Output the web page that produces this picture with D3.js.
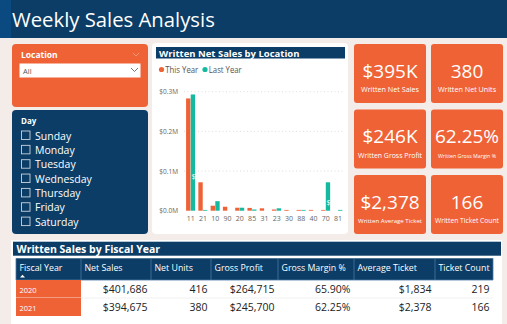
<!DOCTYPE html>
<html>
<head>
<meta charset="utf-8">
<script src="https://cdn.jsdelivr.net/npm/d3@7"></script>
<style>
  body { margin: 0; background: #f3ece9; }
  svg { display: block; font-family: "Open Sans", "Noto Sans", sans-serif; }
</style>
</head>
<body>
<div id="dash"></div>
<script>
// data
var locations = ["11", "21", "10", "90", "20", "85", "31", "23", "30", "88", "40", "70", "81"];
var thisYear = [0.283, 0.0716, 0.0126, 0.010, 0.0075, 0.007, 0.006, 0.003, 0.002, 0.002, 0.002, 0.002, 0];
var lastYear = [0.293, 0.002, 0.024, 0, 0.0075, 0.003, 0, 0.006, 0, 0.002, 0, 0.0716, 0.002];
var yTicks = [0, 0.1, 0.2, 0.3];
var seriesNames = ["This Year", "Last Year"];

var days = ["Sunday", "Monday", "Tuesday", "Wednesday", "Thursday", "Friday", "Saturday"];

var kpiValues = ["$395K", "380", "$246K", "62.25%", "$2,378", "166"];
var kpiLabels = ["Written Net Sales", "Written Net Units", "Written Gross Profit", "Written Gross Margin %", "Written Average Ticket", "Written Ticket Count"];

var tableCols = ["Fiscal Year", "Net Sales", "Net Units", "Gross Profit", "Gross Margin %", "Average Ticket", "Ticket Count"];
var tableRows = [
  ["2020", "$401,686", "416", "$264,715", "65.90%", "$1,834", "219"],
  ["2021", "$394,675", "380", "$245,700", "62.25%", "$2,378", "166"]
];

var navy = "#0b3d66", orange = "#ef6236", teal = "#14b9a0";

var svg = d3.select("#dash").append("svg")
  .attr("width", 507).attr("height", 324);

svg.append("rect").attr("width", 507).attr("height", 324).attr("fill", "#f3ece9");

// header
svg.append("rect").attr("width", 507).attr("height", 38).attr("fill", navy);
svg.append("rect").attr("width", 11).attr("height", 38).attr("fill", "#0b4a80");
svg.append("text").attr("x", 12).attr("y", 27)
  .attr("fill", "#fff").attr("font-size", 20.3)
  .text("Weekly Sales Analysis");

// location slicer
svg.append("rect").attr("x", 12).attr("y", 44).attr("width", 136).attr("height", 63)
  .attr("rx", 4).attr("fill", orange);
svg.append("text").attr("x", 21).attr("y", 58).attr("fill", "#fff")
  .attr("font-size", 8.5).attr("font-weight", "bold").text("Location");
svg.append("path").attr("d", "M133,53 l3,3 l3,-3").attr("fill", "none")
  .attr("stroke", "#f7a58a").attr("stroke-width", 0.8);
svg.append("rect").attr("x", 19.5).attr("y", 63.5).attr("width", 121).attr("height", 14)
  .attr("fill", "#fff");
svg.append("text").attr("x", 23).attr("y", 74).attr("fill", "#555")
  .attr("font-size", 7.5).text("All");
svg.append("path").attr("d", "M131,68 l3.5,3.5 l3.5,-3.5").attr("fill", "none")
  .attr("stroke", "#666").attr("stroke-width", 0.9);

// day slicer
svg.append("rect").attr("x", 12).attr("y", 110).attr("width", 136).attr("height", 124)
  .attr("rx", 4).attr("fill", navy);
svg.append("text").attr("x", 21).attr("y", 124).attr("fill", "#fff")
  .attr("font-size", 8).attr("font-weight", "bold").text("Day");
var dayG = svg.append("g").selectAll("g").data(days).join("g")
  .attr("transform", function(d, i) { return "translate(0," + (i * 14.35) + ")"; });
dayG.append("rect").attr("x", 21.5).attr("y", 131).attr("width", 8.5).attr("height", 8.5)
  .attr("fill", "none").attr("stroke", "#c9d3de").attr("stroke-width", 0.9);
dayG.append("text").attr("x", 35).attr("y", 139.5).attr("fill", "#fff")
  .attr("font-size", 10.5).text(function(d) { return d; });

// bar chart panel
svg.append("rect").attr("x", 152).attr("y", 43).attr("width", 196).attr("height", 191)
  .attr("rx", 4).attr("fill", "#fff");
svg.append("rect").attr("x", 156).attr("y", 47).attr("width", 189).attr("height", 11.5)
  .attr("fill", navy);
svg.append("text").attr("x", 159).attr("y", 56.5).attr("fill", "#fff")
  .attr("font-size", 9.5).attr("font-weight", "bold").text("Written Net Sales by Location");

var leg = svg.append("g").selectAll("g").data(seriesNames).join("g")
  .attr("transform", function(d, i) { return "translate(" + (161.5 + i * 43.5) + ",69.5)"; });
leg.append("circle").attr("r", 2.6).attr("fill", function(d, i) { return i ? teal : orange; });
leg.append("text").attr("x", 3.8).attr("y", 3.3).attr("fill", "#555")
  .attr("font-size", 9).attr("textLength", 33).attr("lengthAdjust", "spacingAndGlyphs")
  .text(function(d) { return d; });

var x = d3.scaleBand().domain(locations).range([184.6, 344.2]).paddingInner(0.24).paddingOuter(0.12);
var x1 = d3.scaleBand().domain([0, 1]).range([0, x.bandwidth()]);
var y = d3.scaleLinear().domain([0, 0.3]).range([210.7, 91.7]);

svg.append("g").selectAll("line").data(yTicks.slice(1)).join("line")
  .attr("x1", 184).attr("x2", 345)
  .attr("y1", function(d) { return y(d); }).attr("y2", function(d) { return y(d); })
  .attr("stroke", "#d6d6d6").attr("stroke-width", 0.8).attr("stroke-dasharray", "1,2.5");

var yAxis = svg.append("g").attr("transform", "translate(178,0)")
  .call(d3.axisLeft(y).tickValues(yTicks).tickSize(0).tickPadding(0)
    .tickFormat(function(d) { return "$" + d.toFixed(1) + "M"; }));
yAxis.select(".domain").remove();
yAxis.selectAll("text").attr("fill", "#666").attr("font-size", 6.5)
  .attr("font-family", "Open Sans, sans-serif");

var xAxis = svg.append("g").attr("transform", "translate(0,210.7)")
  .call(d3.axisBottom(x).tickSize(0).tickPadding(5));
xAxis.select(".domain").remove();
xAxis.selectAll("text").attr("fill", "#666").attr("font-size", 7)
  .attr("font-family", "Open Sans, sans-serif");

var groups = svg.append("g").selectAll("g").data(locations).join("g")
  .attr("transform", function(d) { return "translate(" + x(d) + ",0)"; });
groups.selectAll("rect").data(function(d, i) { return [thisYear[i], lastYear[i]]; }).join("rect")
  .attr("x", function(d, j) { return x1(j); })
  .attr("width", x1.bandwidth() - 0.3)
  .attr("y", function(d) { return y(d); })
  .attr("height", function(d) { return y(0) - y(d); })
  .attr("fill", function(d, j) { return j ? teal : orange; });

// partial data labels inside tall bars
var labelIdx = [0, 11];
svg.append("g").selectAll("text").data(labelIdx).join("text")
  .attr("x", function(i) { return x(locations[i]) + x1(1) + 0.8; })
  .attr("y", function(i) { return i === 0 ? 179 : 205; })
  .attr("fill", "#fff").attr("font-size", 7)
  .text(function(i) { return i === 0 ? "$0" : "$"; });

// KPI cards
var cardX = [354, 431], cardY = [44, 109.5, 175];
var cards = svg.append("g").selectAll("g").data(kpiValues).join("g")
  .attr("transform", function(d, i) { return "translate(" + cardX[i % 2] + "," + cardY[Math.floor(i / 2)] + ")"; });
cards.append("rect").attr("width", 72).attr("height", 59).attr("rx", 3).attr("fill", orange);
cards.append("text").attr("x", 36).attr("y", 33.5).attr("text-anchor", "middle")
  .attr("fill", "#fff").attr("font-size", 19).text(function(d) { return d; });
cards.append("text").attr("x", 36).attr("y", 48).attr("text-anchor", "middle")
  .attr("fill", "#fff")
  .attr("font-size", 7.2)
  .text(function(d, i) { return kpiLabels[i]; })
  .each(function(d, i) {
    // shrink long labels to fit inside the card
    var maxW = i === 3 ? 58 : 64;
    var w = this.getComputedTextLength();
    if (w > maxW) d3.select(this).attr("font-size", 7.2 * maxW / w);
  });

// table
svg.append("rect").attr("x", 11).attr("y", 240).attr("width", 491).attr("height", 84).attr("fill", "#fff");
svg.append("rect").attr("x", 13).attr("y", 241.7).attr("width", 488).attr("height", 14).attr("fill", navy);
svg.append("text").attr("x", 16.5).attr("y", 253).attr("fill", "#fff")
  .attr("font-size", 10.5).attr("font-weight", "bold").text("Written Sales by Fiscal Year");

var colEdges = [16, 81, 151, 211, 278, 354, 435, 493];
var headTop = 258.3, headBot = 280, rowH = 18;

svg.append("rect").attr("x", colEdges[0]).attr("y", headTop)
  .attr("width", colEdges[7] - colEdges[0]).attr("height", headBot - headTop).attr("fill", navy);
svg.append("g").selectAll("line").data(colEdges).join("line")
  .attr("x1", function(d) { return d; }).attr("x2", function(d) { return d; })
  .attr("y1", headTop).attr("y2", headBot)
  .attr("stroke", "#4d7aa3").attr("stroke-width", 0.8);
svg.append("line").attr("x1", colEdges[0]).attr("x2", colEdges[7]).attr("y1", headBot).attr("y2", headBot)
  .attr("stroke", "#4d7aa3").attr("stroke-width", 0.8);
svg.append("g").selectAll("text").data(tableCols).join("text")
  .attr("x", function(d, i) { return colEdges[i] + 3.5; })
  .attr("y", 270.5).attr("fill", "#fff").attr("font-size", 8.8)
  .text(function(d) { return d; });
svg.append("path").attr("d", "M20,277.5 l2.5,-2.8 l2.5,2.8 z").attr("fill", "#fff");

var rows = svg.append("g").selectAll("g").data(tableRows).join("g")
  .attr("transform", function(d, i) { return "translate(0," + (headBot + i * rowH) + ")"; });
rows.append("rect").attr("x", colEdges[0]).attr("y", 0)
  .attr("width", colEdges[1] - colEdges[0]).attr("height", rowH).attr("fill", orange);
rows.append("line").attr("x1", colEdges[0]).attr("x2", colEdges[7]).attr("y1", rowH).attr("y2", rowH)
  .attr("stroke", function(d, i) { return i ? "none" : "#eeeeee"; }).attr("stroke-width", 0.8);
rows.append("line").attr("x1", colEdges[0]).attr("x2", colEdges[1]).attr("y1", rowH).attr("y2", rowH)
  .attr("stroke", function(d, i) { return i ? "none" : "#f7a58a"; }).attr("stroke-width", 0.8);
rows.selectAll("text").data(function(d) { return d; }).join("text")
  .attr("x", function(d, j) { return j === 0 ? colEdges[0] + 3.5 : colEdges[j + 1] - 3.5; })
  .attr("y", 13.3)
  .attr("text-anchor", function(d, j) { return j === 0 ? "start" : "end"; })
  .attr("fill", function(d, j) { return j === 0 ? "#fff" : "#222"; })
  .attr("font-size", function(d, j) { return j === 0 ? 7.5 : 10.5; })
  .text(function(d) { return d; });
</script>
</body>
</html>
